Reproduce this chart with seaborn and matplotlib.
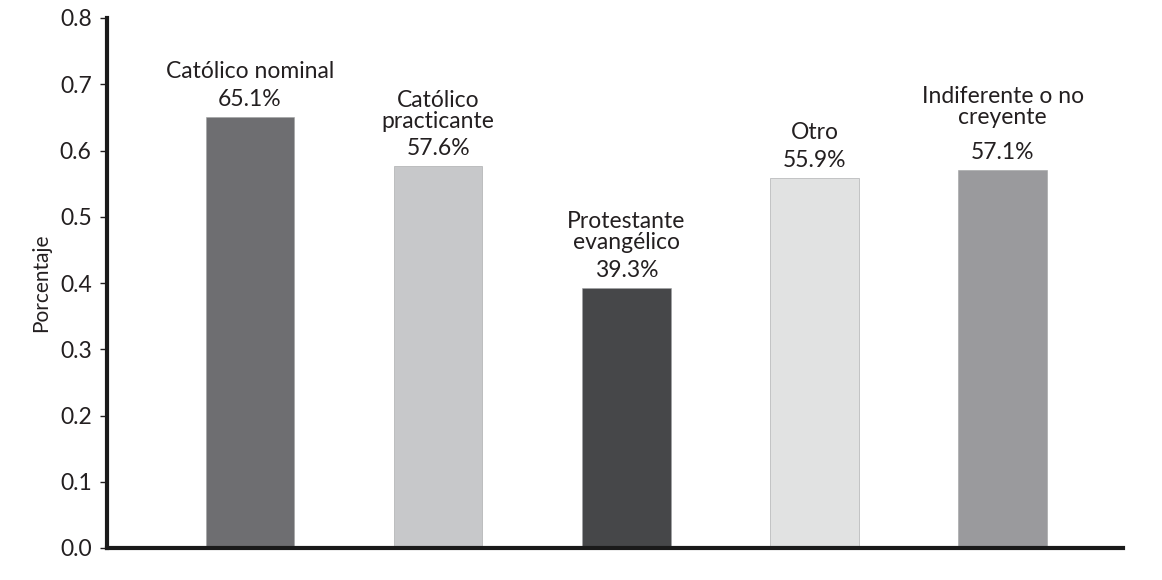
import pandas as pd
import seaborn as sns
import matplotlib.pyplot as plt

# data
categorias = ['Católico nominal', 'Católico\npracticante', 'Protestante\nevangélico',
              'Otro', 'Indiferente o no\ncreyente']
porcentaje = [0.651, 0.576, 0.393, 0.559, 0.571]
etiquetas = ['65.1%', '57.6%', '39.3%', '55.9%', '57.1%']
colores = ['#6d6e71', '#c7c8ca', '#464749', '#e1e2e2', '#999a9d']

df = pd.DataFrame({'categoria': categorias, 'porcentaje': porcentaje})

sns.set_style('white')
plt.rcParams['font.family'] = ['Lato', 'DejaVu Sans']

fig = plt.figure(figsize=(11.62, 5.80), dpi=100)
ax = fig.add_axes([107 / 1162, 32 / 580, (1123 - 107) / 1162, (548 - 18) / 580])

sns.barplot(data=df, x='categoria', y='porcentaje', hue='categoria',
            palette=colores, legend=False, width=0.47, ax=ax,
            edgecolor='#a0a1a3', linewidth=0.4)

ax.set_ylim(0, 0.8)
ax.set_xlim(-0.76, 4.64)
ax.set_yticks([i / 10 for i in range(9)])
ax.set_yticklabels([f'{i / 10:.1f}' for i in range(9)], fontsize=16.5, color='#231f20')
ax.set_xticks([])
ax.set_xlabel('')
ax.set_ylabel('Porcentaje', fontsize=15, color='#231f20', labelpad=6)
ax.tick_params(axis='y', direction='out', length=5, width=1, color='#231f20', left=True, pad=6)

for side in ['top', 'right']:
    ax.spines[side].set_visible(False)
for side in ['left', 'bottom']:
    ax.spines[side].set_linewidth(3)
    ax.spines[side].set_color('#1a1a1a')

for i, (nombre, valor, txt) in enumerate(zip(categorias, porcentaje, etiquetas)):
    ax.annotate(txt, (i, valor), xytext=(0, 5), textcoords='offset points',
                ha='center', va='bottom', fontsize=16.5, color='#231f20')
    extra = 5 if i == 4 else 0
    ax.annotate(nombre, (i, valor), xytext=(0, 25 + extra), textcoords='offset points',
                ha='center', va='bottom', fontsize=16.5, color='#231f20',
                linespacing=1.0)

plt.savefig('out.png', dpi=100)
